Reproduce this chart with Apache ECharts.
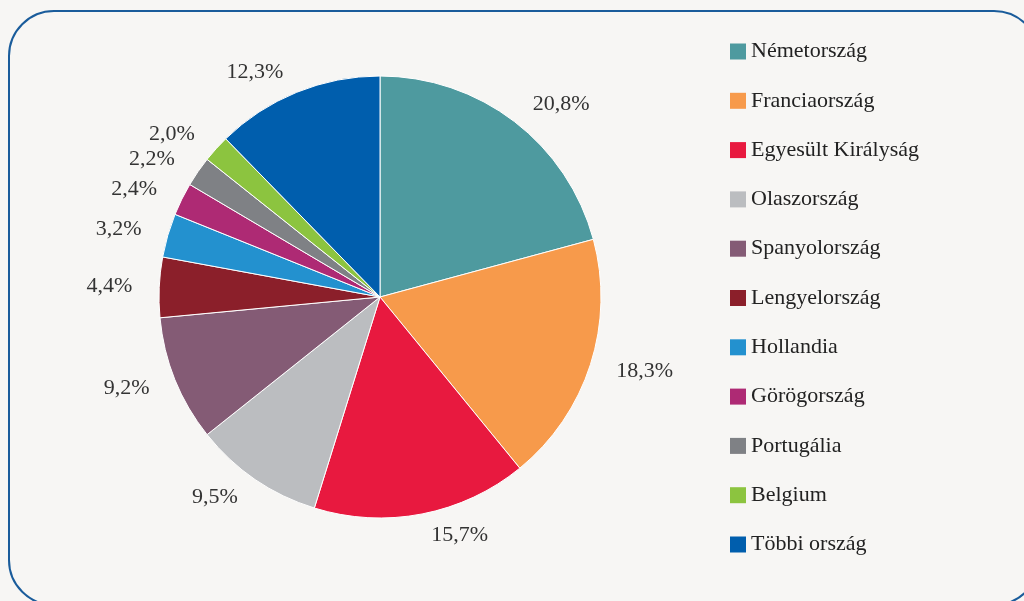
<!DOCTYPE html>
<html>
<head>
<meta charset="utf-8">
<script src="https://cdn.jsdelivr.net/npm/echarts@6/dist/echarts.min.js"></script>
<style>
html,body{margin:0;padding:0;background:#f7f6f4;}
#c{width:1024px;height:601px;}
</style>
</head>
<body>
<div id="c"></div>
<script>
const categories = ['Németország','Franciaország','Egyesült Királyság','Olaszország','Spanyolország','Lengyelország','Hollandia','Görögország','Portugália','Belgium','Többi ország'];
const shares = [20.8, 18.3, 15.7, 9.5, 9.2, 4.4, 3.2, 2.4, 2.2, 2.0, 12.3];
const colors = ['#4e9a9f','#f79a4b','#e8193f','#bbbdc0','#845b75','#8b1f2a','#2391cf','#ae2a74','#7f8185','#8cc43f','#005ead'];

const chart = echarts.init(document.getElementById('c'));
const font = '"Liberation Serif", "DejaVu Serif", serif';
chart.setOption({
  backgroundColor: '#f7f6f4',
  animation: false,
  color: colors,
  graphic: [{
    type: 'rect',
    shape: {x: 9, y: 11, width: 1030, height: 594, r: 45},
    style: {fill: 'none', stroke: '#1a5c9b', lineWidth: 2},
    z: -1
  }],
  legend: {
    orient: 'vertical',
    left: 725,
    top: 35.5,
    itemWidth: 16,
    itemHeight: 16,
    itemGap: 27.3,
    icon: 'rect',
    itemStyle: {borderWidth: 0},
    textStyle: {fontFamily: font, fontSize: 22, color: '#222', lineHeight: 22},
    data: categories
  },
  series: [{
    type: 'pie',
    center: [380, 297],
    radius: 221,
    startAngle: 90,
    clockwise: true,
    avoidLabelOverlap: true,
    itemStyle: {borderColor: '#ffffff', borderWidth: 1},
    label: {
      show: true,
      position: 'outside',
      fontFamily: font,
      fontSize: 22,
      color: '#333',
      distanceToLabelLine: 5,
      formatter: p => p.value.toFixed(1).replace('.', ',') + '%'
    },
    labelLine: {show: false, length: 22, length2: 0},
    data: categories.map((n, i) => ({name: n, value: shares[i]}))
  }]
});
</script>
</body>
</html>
